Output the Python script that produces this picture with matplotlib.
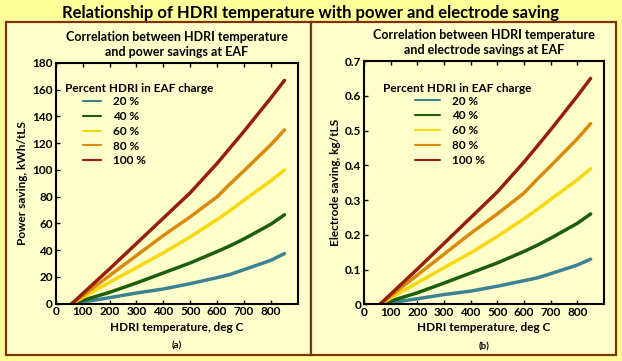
import matplotlib
matplotlib.use("Agg")
import matplotlib.pyplot as plt
from matplotlib.patches import Rectangle

plt.rcParams['font.family'] = ['Lato', 'DejaVu Sans']
plt.rcParams['font.weight'] = 'bold'

# HDRI temperature, deg C
temp = [60, 200, 300, 400, 500, 600, 650, 700, 800, 850]
labels = ["20 %", "40 %", "60 %", "80 %", "100 %"]
colors = ["#3b8294", "#1d5e0c", "#f8d80a", "#d98a0c", "#981e0c"]

# power saving, kWh/tLS
power = [
    [0, 4.5, 8, 11, 15, 19.5, 22, 25.5, 32.5, 37.5],
    [0, 8.5, 15.5, 23, 30.5, 39, 43.5, 48.5, 59.5, 66.5],
    [0, 16, 27, 38, 50, 63, 70, 77.5, 92, 100],
    [0, 21, 36, 51, 65, 80, 90, 99.5, 119, 130],
    [0, 26, 45, 64, 83, 105, 117, 129, 154, 167],
]

# electrode saving, kg/tLS
electrode = [
    [0, 0.016, 0.028, 0.038, 0.052, 0.068, 0.076, 0.088, 0.113, 0.13],
    [0, 0.033, 0.061, 0.09, 0.119, 0.152, 0.17, 0.19, 0.233, 0.26],
    [0, 0.062, 0.105, 0.148, 0.195, 0.246, 0.273, 0.302, 0.358, 0.39],
    [0, 0.084, 0.144, 0.204, 0.26, 0.32, 0.36, 0.398, 0.476, 0.52],
    [0, 0.101, 0.175, 0.249, 0.323, 0.409, 0.455, 0.502, 0.599, 0.65],
]

bg_outer = "#ffff99"
bg_panel = "#ffffcc"
brown = "#7a3510"

fig = plt.figure(figsize=(6.22, 3.61), dpi=100, facecolor=bg_outer)

# background axes holding the two panel boxes
bg = fig.add_axes([0, 0, 1, 1], zorder=-1)
bg.set_xlim(0, 1)
bg.set_ylim(0, 1)
bg.axis("off")
for x0 in [0.009, 0.5]:
    bg.add_patch(Rectangle((x0, 0.017), 0.491, 0.922, facecolor=bg_panel,
                           edgecolor=brown, linewidth=1.6))

fig.text(0.5, 0.965, "Relationship of HDRI temperature with power and electrode saving",
         ha="center", va="center", fontsize=12, fontweight="bold")

ax1 = fig.add_axes([0.0895, 0.1587, 0.3895, 0.6668])
ax2 = fig.add_axes([0.585, 0.157, 0.386, 0.674])

panels = [
    (ax1, power, "Correlation between HDRI temperature\nand power savings at EAF",
     "Power saving, kWh/tLS", "(a)", 180, [0, 20, 40, 60, 80, 100, 120, 140, 160, 180],
     (0.038, 0.896), (0.113, 0.862), 1.5),
    (ax2, electrode, "Correlation between HDRI temperature\nand electrode savings at EAF",
     "Electrode saving, kg/tLS", "(b)", 0.7, [0, 0.1, 0.2, 0.3, 0.4, 0.5, 0.6, 0.7],
     (0.079, 0.889), (0.215, 0.858), 2.1),
]

for ax, data, title, ylabel, tag, ymax, yticks, tpos, lpos, hlen in panels:
    ax.set_facecolor(bg_panel)
    for vals, lab, c in zip(data, labels, colors):
        ax.plot(temp, vals, color=c, linewidth=2.5, label=lab, solid_capstyle="round")
    ax.set_xlim(0, 900)
    ax.set_ylim(0, ymax)
    ax.set_xticks([0, 100, 200, 300, 400, 500, 600, 700, 800])
    ax.set_yticks(yticks)
    if ymax < 1:
        ax.set_yticklabels(["0"] + [f"{v:.1f}" for v in yticks[1:]])
    ax.tick_params(direction="in", top=True, length=3, width=1, labelsize=8.5, pad=2)
    for s in ax.spines.values():
        s.set_linewidth(1.5)
    ax.set_title(title, fontsize=9, fontweight="bold", pad=5, linespacing=1.3)
    ax.set_ylabel(ylabel, fontsize=8.5, fontweight="bold", labelpad=3)
    ax.set_xlabel("HDRI temperature, deg C", fontsize=8.5, fontweight="bold", labelpad=3)
    ax.text(0.5, -0.175, tag, transform=ax.transAxes, ha="center", va="center", fontsize=7)
    ax.text(tpos[0], tpos[1], "Percent HDRI in EAF charge", transform=ax.transAxes,
            ha="left", va="center", fontsize=8.5, fontweight="bold")
    leg = ax.legend(loc="upper left", bbox_to_anchor=lpos, frameon=False,
                    fontsize=8.5, handlelength=hlen, handletextpad=1.0,
                    labelspacing=0.32, borderaxespad=0, borderpad=0)
    for h in leg.get_lines():
        h.set_linewidth(1.5)
    for t in leg.get_texts():
        t.set_fontweight("bold")

fig.savefig("out.png", dpi=100, facecolor=bg_outer)
